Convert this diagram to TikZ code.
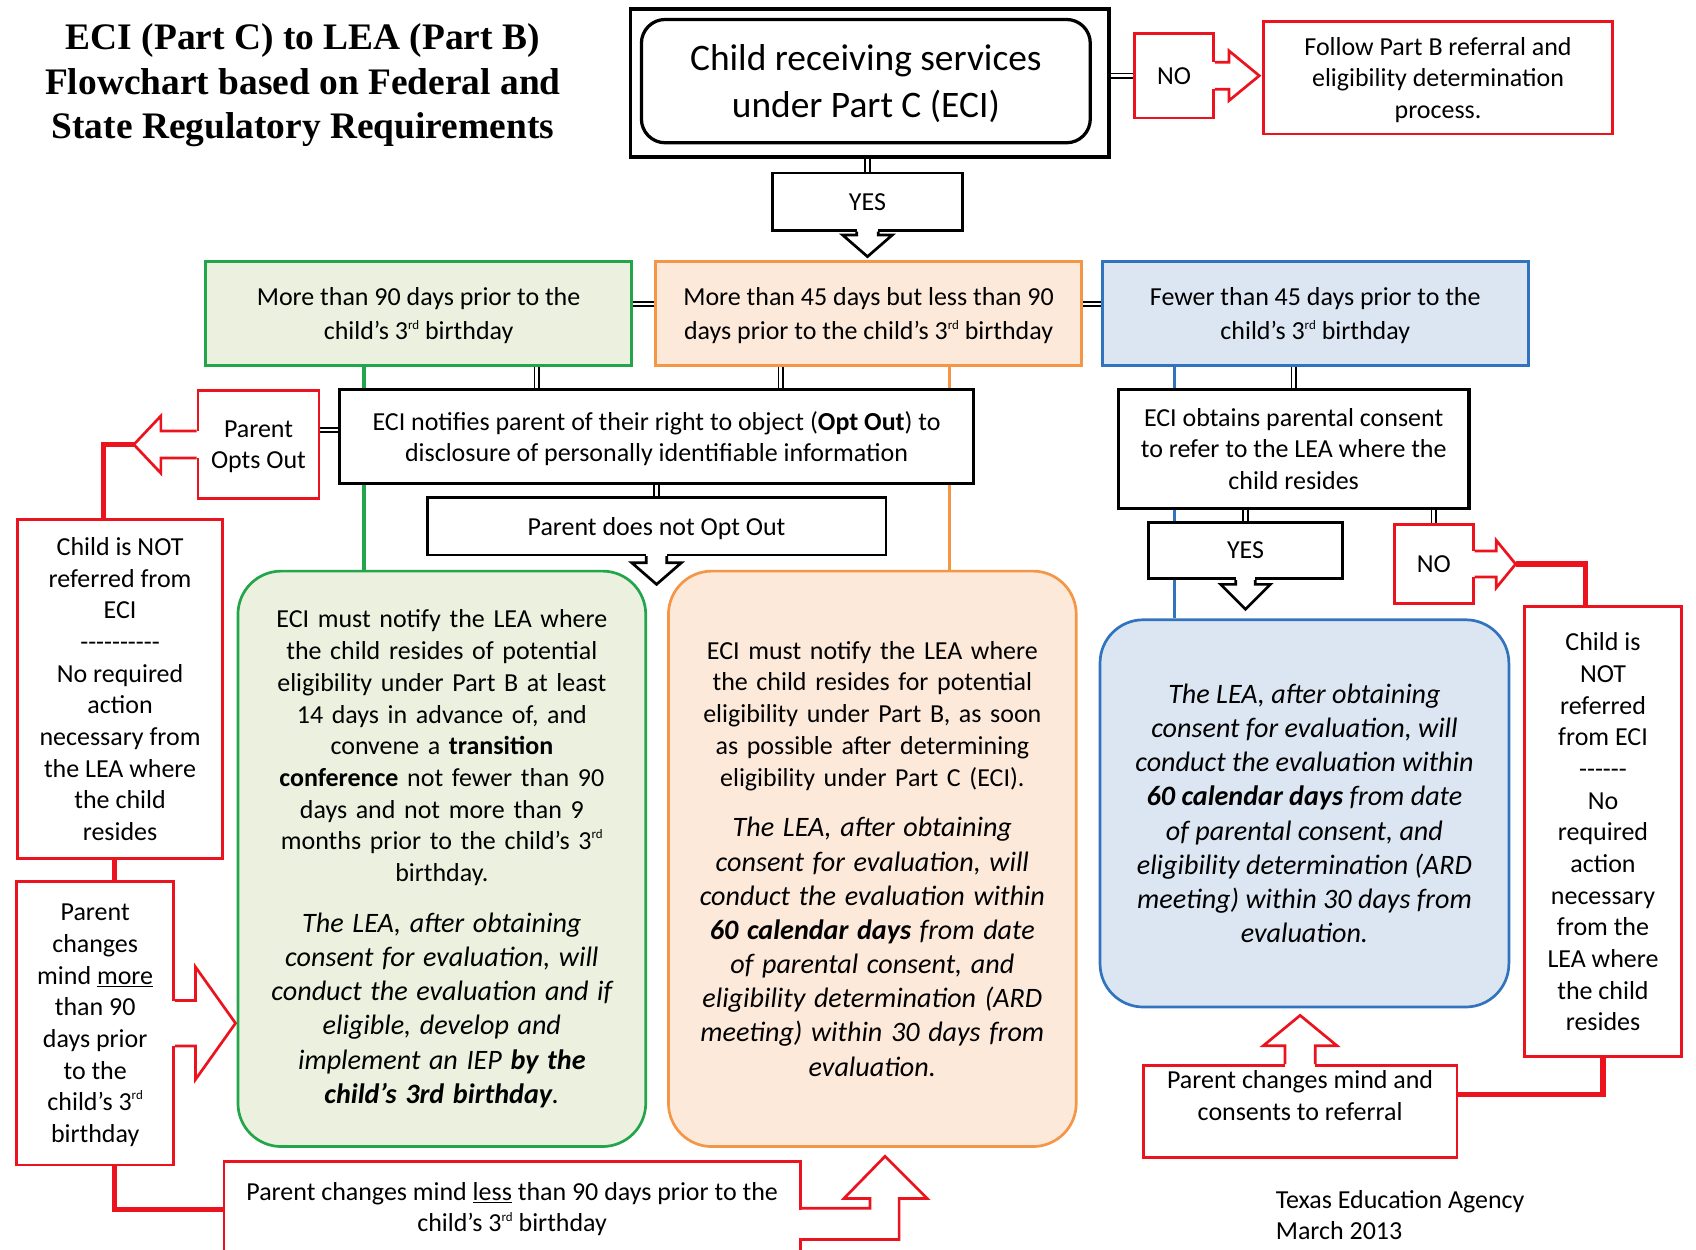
\documentclass[tikz,border=0pt]{standalone}
\usepackage{fontspec}
\setmainfont{Carlito}
\newfontfamily\titlefont{Liberation Serif}
\usetikzlibrary{calc}
\definecolor{cg}{RGB}{35,165,75}
\definecolor{cgbg}{RGB}{235,241,222}
\definecolor{co}{RGB}{245,150,70}
\definecolor{cobg}{RGB}{253,233,217}
\definecolor{cb}{RGB}{50,115,190}
\definecolor{cbbg}{RGB}{220,230,242}
\definecolor{cr}{RGB}{235,20,30}
\tikzset{%
  wh/.style 2 args={minimum width=#1pt,minimum height=#2pt},
  blk/.style={draw=black,line width=3pt,fill=white,align=center,inner sep=0pt,text depth=0pt},
  redbox/.style={draw=cr,line width=2.5pt,fill=white,align=center,inner sep=0pt,text depth=0pt},
  stage/.style={draw=#1,fill=#1bg,line width=3pt,align=center,inner sep=0pt,text depth=0pt,font=\fontsize{24}{32}\selectfont},
  note/.style={draw=#1,fill=#1bg,line width=2.5pt,rounded corners=40pt,align=center,inner sep=0pt},
  dbl/.style={draw=black,double=white,line width=1.7pt,double distance=2.4pt},
  redline/.style={draw=cr,line width=5pt}
}
\newcommand\leafont{\fontsize{26}{31.6}\selectfont\itshape}
\newcommand\rd{\raisebox{0.42em}{\fontsize{12}{12}\selectfont rd}}
% box arrow: [colour]{anchor}{angle}{tip name}{shaft half}{shaft length}{head half}{head length}
\NewDocumentCommand\callout{O{black}mmmmmmm}{%
  \begin{scope}[shift={(#2)},rotate=#3]
    \fill[white] (-3,-#5) rectangle (#6+1,#5);
    \draw[#1,line width=2.5pt,fill=white] (0,#5) -- (#6,#5) -- (#6,#7) -- (#6+#8,0) -- (#6,-#7) -- (#6,-#5) -- (0,-#5);
    \coordinate (#4) at (#6+#8,0);
  \end{scope}}

\begin{document}
\begin{tikzpicture}[x=1pt,y=-1pt,font=\fontsize{24}{29.3}\selectfont]
  \useasboundingbox (0,0) rectangle (1568,1155);
  \clip (0,0) rectangle (1568,1155);
  %% title
  \node[font=\titlefont\bfseries\fontsize{34.6}{41}\selectfont,align=center] (title) at (280,79)
    {ECI (Part C) to LEA (Part B)\\Flowchart based on Federal and\\State Regulatory Requirements};
  %% start
  \node[blk,line width=3.5pt,wh={442}{137}] (frame) at (804,76.5) {};
  \node[draw,line width=3pt,rounded corners=22pt,wh={415}{114},align=center,text depth=0pt,font=\fontsize{34.6}{43}\selectfont] (child) at (800.5,75)
    {Child receiving services\\under Part C (ECI)};
  \node[redbox,wh={73}{78}] (noTop) at (1085.5,70) {NO};
  \callout[cr]{noTop.east}{0}{noTopTip}{12.5}{13}{23}{28}
  \draw[dbl] (noTop.west -| frame.east) -- (noTop.west);
  \node[redbox,wh={323}{104}] (follow) at (1329.5,72) {Follow Part B referral and\\eligibility determination\\process.};
  \node[blk,line width=2.5pt,wh={176}{53}] (yesTop) at (802,186.5) {YES};
  \callout{yesTop.south}{-90}{yesTopTip}{10}{3}{23}{20}
  \draw[dbl] (yesTop.north |- frame.south) -- (yesTop.north);
  %% three cases
  \node[stage=cg,wh={394}{96}] (over90) at (387,290) {More than 90 days prior to the\\child's 3\rd{} birthday};
  \node[stage=co,wh={394}{96}] (mid) at (803,290) {More than 45 days but less than 90\\days prior to the child's 3\rd{} birthday};
  \node[stage=cb,wh={394}{96}] (under45) at (1216,290) {Fewer than 45 days prior to the\\child's 3\rd{} birthday};
  \draw[dbl] ([yshift=9pt]over90.east) -- ([yshift=9pt]mid.west);
  \draw[dbl] ([yshift=9pt]mid.east) -- ([yshift=9pt]under45.west);
  %% LEA notes
  \node[note=cg,wh={377}{532},text width=350pt] (greenNote) at (408.5,794) {%
    ECI must notify the LEA where\\the child resides of potential\\eligibility under Part B at least\\14 days in advance of, and\\convene a \textbf{transition}\\\textbf{conference} not fewer than 90\\days and not more than 9\\months prior to the child's 3\rd\\birthday.\par
    \vspace{15.4pt}
    {\leafont The LEA, after obtaining\\consent for evaluation, will\\conduct the evaluation and if\\eligible, develop and\\implement an IEP \textbf{by the}\\\textbf{child's 3rd birthday}.\par}};
  \node[note=co,wh={377}{532},text width=350pt] (orangeNote) at (806.5,794) {%
    ECI must notify the LEA where\\the child resides for potential\\eligibility under Part B, as soon\\as possible after determining\\eligibility under Part C (ECI).\par
    \vspace{15.4pt}
    {\leafont The LEA, after obtaining\\consent for evaluation, will\\conduct the evaluation within\\\textbf{60 calendar days} from date\\of parental consent, and\\eligibility determination (ARD\\meeting) within 30 days from\\evaluation.\par}};
  \node[note=cb,wh={378}{358},font=\leafont] (blueNote) at (1206,752)
    {The LEA, after obtaining\\consent for evaluation, will\\conduct the evaluation within\\\textbf{60 calendar days} from date\\of parental consent, and\\eligibility determination (ARD\\meeting) within 30 days from\\evaluation.};
  %% side lines
  \coordinate (g1) at ($(over90.south west)!0.373!(over90.south east)$);
  \coordinate (o1) at ($(mid.south west)!0.688!(mid.south east)$);
  \coordinate (b1) at ($(under45.south west)!0.173!(under45.south east)$);
  \draw[cg,line width=3pt] (g1) -- (g1 |- greenNote.north);
  \draw[co,line width=3pt] (o1) -- (o1 |- orangeNote.north);
  \draw[cb,line width=3pt] (b1) -- (b1 |- blueNote.north);
  %% opt out
  \node[blk,wh={586}{87}] (notify) at (607,403.5)
    {ECI notifies parent of their right to object (\textbf{Opt Out}) to\\disclosure of personally identifiable information};
  \coordinate (n1) at ($(notify.north west)!0.312!(notify.north east)$);
  \coordinate (n2) at ($(notify.north west)!0.695!(notify.north east)$);
  \draw[dbl] (n1 |- over90.south) -- (n1);
  \draw[dbl] (n2 |- mid.south) -- (n2);
  \node[blk,line width=2.5pt,wh={424}{53}] (noOpt) at (607,486.5) {Parent does not Opt Out};
  \callout{noOpt.south}{-90}{noOptTip}{9.5}{6}{23}{20}
  \draw[dbl] (notify.south) -- (noOpt.north);
  \node[redbox,wh={112}{100}] (optOut) at (239,411) {Parent\\Opts Out};
  \callout[cr]{optOut.west}{180}{optTip}{12.5}{33}{26.5}{25}
  \draw[dbl] ([yshift=6pt]notify.west) -- ([yshift=6pt]notify.west -| optOut.east);
  %% left red column
  \node[redbox,wh={190}{314}] (notL) at (111,637)
    {Child is NOT\\referred from\\ECI\\-{}-{}-{}-{}-{}-{}-{}-{}-{}-\\No required\\action\\necessary from\\the LEA where\\the child\\resides};
  \coordinate (l1) at ($(notL.north west)!0.42!(notL.north east)$);
  \draw[redline] (optTip) -| (l1);
  \node[redbox,wh={145}{262}] (moreBox) at (88,946)
    {Parent\\changes\\mind \underline{more}\\than 90\\days prior\\to the\\child's 3\rd\\birthday};
  \callout[cr]{moreBox.east}{0}{moreTip}{21}{19}{52}{37}
  \coordinate (l2) at ($(moreBox.north west)!0.62!(moreBox.north east)$);
  \coordinate (l3) at ($(moreBox.south west)!0.62!(moreBox.south east)$);
  \draw[redline] (l2 |- notL.south) -- (l2);
  \node[redbox,wh={533}{84}] (lessBox) at (473.5,1116)
    {Parent changes mind \underline{less} than 90 days prior to the\\child's 3\rd{} birthday};
  \draw[redline] (l3) |- ([yshift=-2pt]lessBox.west);
  \fill[white] ([xshift=-3pt,yshift=-2.5pt]lessBox.east) rectangle ++(6,26);
  \draw[cr,line width=2.5pt,fill=white] ([yshift=-1pt]lessBox.east) -- ++(63,0) -- ++(0,-9) -- ++(-24,0) -- ++(38,-39)
    -- ++(39,39) -- ++(-26,0) -- ++(0,38) -- ++(-90,0);
  %% right side
  \node[blk,wh={324}{110}] (obtain) at (1196,415) {ECI obtains parental consent\\to refer to the LEA where the\\child resides};
  \draw[dbl] (obtain.north |- under45.south) -- (obtain.north);
  \node[blk,line width=2.5pt,wh={179}{52}] (yesR) at (1151.5,509) {YES};
  \callout{yesR.south}{-90}{yesRTip}{9}{4}{23}{23}
  \draw[dbl] (yesR.north |- obtain.south) -- (yesR.north);
  \node[redbox,wh={73}{73}] (noR) at (1325.5,521.5) {NO};
  \callout[cr]{noR.east}{0}{noRTip}{12}{20}{22}{18}
  \draw[dbl] (noR.north |- obtain.south) -- (noR.north);
  \node[redbox,wh={145}{416}] (notR) at (1482,769)
    {Child is\\NOT\\referred\\from ECI\\-{}-{}-{}-{}-{}-\\No\\required\\action\\necessary\\from the\\LEA where\\the child\\resides};
  \coordinate (r1) at ($(notR.north west)!0.39!(notR.north east)$);
  \draw[redline] (noRTip) -| (r1);
  \node[redbox,wh={290}{85}] (consent) at (1202,1027.5) {Parent changes mind and\\consents to referral\\[0pt]\mbox{}};
  \callout[cr]{consent.north}{90}{upTip}{14}{17}{34}{28}
  \draw[redline] (notR.south) |- ([yshift=15.5pt]consent.east);
  %% footer
  \node[anchor=west,align=left] (tea) at (1176,1123.5) {Texas Education Agency\\March 2013};
\end{tikzpicture}
\end{document}
